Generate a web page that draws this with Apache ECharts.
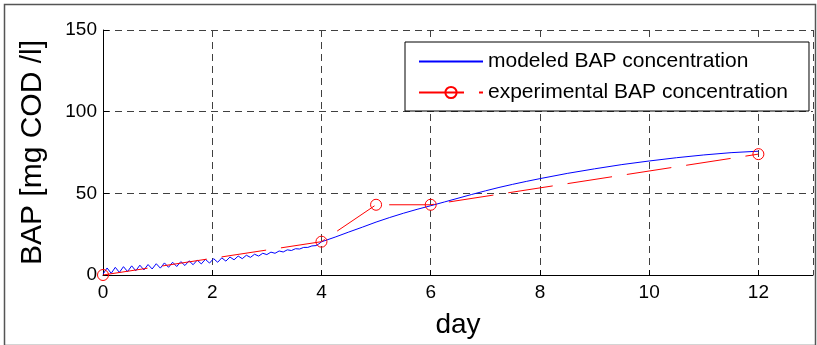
<!DOCTYPE html>
<html>
<head>
<meta charset="utf-8">
<script src="https://cdn.jsdelivr.net/npm/echarts@6/dist/echarts.min.js"></script>
<style>
html,body{margin:0;padding:0;background:#fff;}
#chart{width:817px;height:345px;}
</style>
</head>
<body>
<div id="chart"></div>
<script>
// ---- data ----
var xTicks = [0, 2, 4, 6, 8, 10, 12];
var yTicks = [0, 50, 100, 150];
var modeledDays = [
  0.000, 0.075, 0.150, 0.225, 0.300, 0.375, 0.450, 0.525, 0.600, 0.675,
  0.750, 0.825, 0.900, 0.975, 1.050, 1.125, 1.200, 1.275, 1.350, 1.425,
  1.500, 1.575, 1.650, 1.725, 1.800, 1.875, 1.950, 2.025, 2.100, 2.175,
  2.250, 2.325, 2.400, 2.475, 2.550, 2.625, 2.700, 2.775, 2.850, 2.925,
  3.000, 3.075, 3.150, 3.225, 3.300, 3.375, 3.450, 3.525, 3.600, 3.675,
  3.750, 3.825, 3.900, 3.950, 4.000, 4.250, 4.500, 4.750, 5.000, 5.250,
  5.500, 5.750, 6.000, 6.250, 6.500, 6.750, 7.000, 7.250, 7.500, 7.750,
  8.000, 8.500, 9.000, 9.500, 10.000, 10.500, 11.000, 11.500, 12.000
];
var modeledBAP = [
  0.5, 4.3, 1.0, 4.7, 1.6, 5.1, 2.1, 5.6, 2.6, 6.0,
  3.1, 6.4, 3.7, 6.9, 4.2, 7.4, 4.7, 7.8, 5.2, 8.2,
  5.8, 8.7, 6.3, 9.1, 6.8, 9.6, 7.3, 10.0, 7.8, 10.5,
  8.5, 11.0, 9.3, 11.6, 10.0, 12.1, 10.8, 12.7, 11.6, 13.3,
  12.5, 14.0, 13.3, 14.7, 14.1, 15.4, 15.0, 16.1, 15.9, 16.9,
  16.9, 17.8, 18.0, 19.0, 20.3, 23.2, 26.3, 29.3, 32.4, 35.2,
  37.8, 40.2, 42.4, 44.7, 47.0, 49.3, 51.5, 53.6, 55.5, 57.3,
  59.0, 62.2, 65.0, 67.6, 69.8, 71.8, 73.5, 74.9, 75.8
];
var expDays = [0, 4, 5, 6, 12];
var expBAP = [0, 20.4, 43, 43, 74];

var modeledData = modeledDays.map(function (d, i) { return [d, modeledBAP[i]]; });
var expData = expDays.map(function (d, i) { return [d, expBAP[i]]; });

var FONT = '"Liberation Sans", Arial, sans-serif';
var chart = echarts.init(document.getElementById('chart'));
chart.setOption({
  animation: false,
  backgroundColor: '#fff',
  textStyle: { fontFamily: FONT, color: '#000' },
  grid: { left: 103, top: 30, right: 4, bottom: 70, containLabel: false },
  xAxis: {
    type: 'value', min: 0, max: 13, interval: 2,
    name: 'day', nameLocation: 'middle', nameGap: 36,
    nameTextStyle: { fontSize: 28, color: '#000', fontFamily: FONT },
    axisLine: { show: true, lineStyle: { color: '#000', width: 1 } },
    axisTick: { show: true, inside: true, length: 5, lineStyle: { color: '#000' } },
    axisLabel: { fontSize: 19, color: '#000', margin: 8, fontFamily: FONT, showMaxLabel: false,
      formatter: function (v) { return xTicks.indexOf(v) >= 0 ? String(v) : ''; } },
    splitLine: { show: true, lineStyle: { color: '#404040', type: [7, 5], width: 1 } }
  },
  yAxis: {
    type: 'value', min: 0, max: 150, interval: 50,
    name: 'BAP [mg COD /l]', nameLocation: 'middle', nameGap: 55,
    nameTextStyle: { fontSize: 30, color: '#000', fontFamily: FONT },
    axisLine: { show: true, lineStyle: { color: '#000', width: 1 } },
    axisTick: { show: true, inside: true, length: 6, lineStyle: { color: '#000' } },
    axisLabel: { fontSize: 19, color: '#000', margin: 6, fontFamily: FONT,
      formatter: function (v) { return yTicks.indexOf(v) >= 0 ? String(v) : ''; } },
    splitLine: { show: true, lineStyle: { color: '#404040', type: [7, 5], width: 1 } }
  },
  legend: {
    orient: 'vertical', left: 405, top: 42,
    padding: [9, 21, 8, 13], itemGap: 10, itemWidth: 64, itemHeight: 14, itemTextGap: 8,
    backgroundColor: '#fff', borderColor: '#000', borderWidth: 1,
    textStyle: { fontSize: 21, color: '#000', fontFamily: FONT },
    data: [
      { name: 'modeled BAP concentration', itemStyle: { color: 'rgba(0,0,0,0)', borderWidth: 0, opacity: 0 } },
      { name: 'experimental BAP concentration' }
    ]
  },
  series: [
    {
      name: 'modeled BAP concentration', type: 'line', data: modeledData,
      symbol: 'none', smooth: false,
      lineStyle: { color: '#0000ff', width: 1 }, itemStyle: { color: '#0000ff' }
    },
    {
      name: 'experimental BAP concentration', type: 'line', data: expData,
      symbol: 'circle', symbolSize: 11, showSymbol: true,
      lineStyle: { color: '#ff0000', width: 1, type: [45, 15] },
      itemStyle: { color: 'rgba(255,255,255,0)', borderColor: '#ff0000', borderWidth: 1 }
    }
  ],
  graphic: [
    { type: 'rect', left: 2, top: 2, silent: true, z: 100,
      shape: { width: 811, height: 341 },
      style: { fill: 'none', stroke: '#555', lineWidth: 1.5 } }
  ]
});
</script>
</body>
</html>
